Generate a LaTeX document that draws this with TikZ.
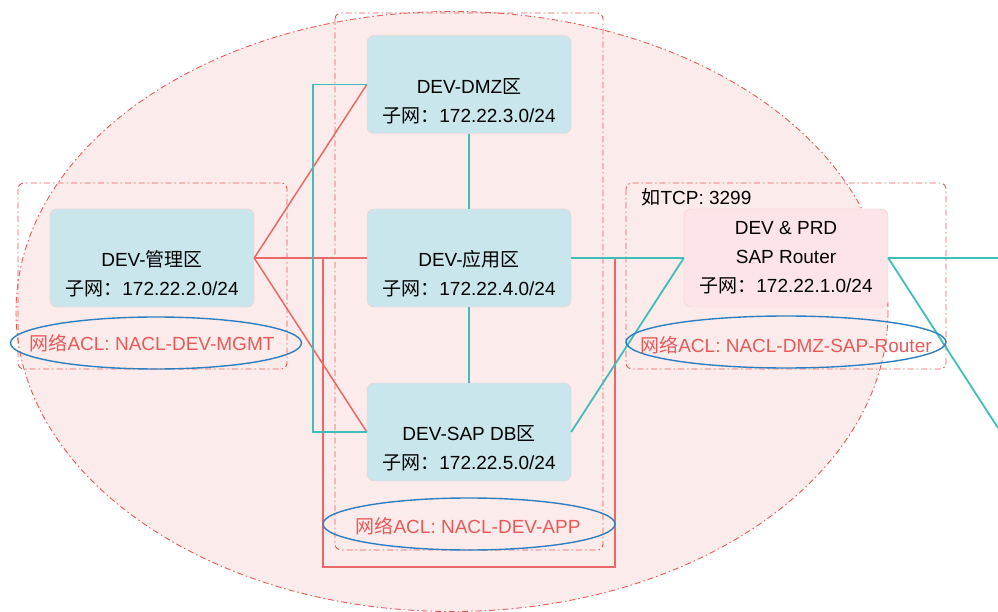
\documentclass[tikz,border=0pt]{standalone}
\usepackage{fontspec}
\usetikzlibrary{shapes.geometric}
\setmainfont{Liberation Sans}
\newfontfamily\cjk{Noto Sans CJK SC}
\newcommand\zh[1]{{\cjk #1}}
\definecolor{zoneblue}{RGB}{201,230,236}
\definecolor{zoneedge}{RGB}{246,200,204}
\definecolor{routerpink}{RGB}{253,228,232}
\definecolor{vpcfill}{RGB}{252,235,235}
\definecolor{aclred}{RGB}{232,90,90}
\definecolor{linkred}{RGB}{234,104,104}
\definecolor{linkcyan}{RGB}{62,190,184}
\definecolor{aclblue}{RGB}{46,126,192}
\begin{document}
\begin{tikzpicture}
	[x=1pt,y=-1pt,
	dashdot/.style={draw=aclred,line width=0.9pt,
		dash pattern=on 6pt off 3pt on 1.5pt off 3pt},
	zone/.style={rectangle,rounded corners=7pt,draw=zoneedge,
		fill=zoneblue,minimum width=204pt,minimum height=98pt},
	zonetext/.style={align=center,font=\fontsize{19}{29}\selectfont},
	redlink/.style={draw=linkred,line width=1.5pt},
	cyanlink/.style={draw=linkcyan,line width=1.8pt},
	acl/.style={draw=aclblue,line width=1.4pt,ellipse,inner sep=0pt},
	acltext/.style={text=aclred,font=\fontsize{19}{23}\selectfont}]
	\useasboundingbox (0,0) rectangle (998,612);
	% VPC and the dashed groups
	\path[dashdot,fill=vpcfill] (452,311.5) ellipse [x radius=436,y radius=300];
	\draw[dashdot,rounded corners=6pt] (18,183) rectangle (287,369);
	\draw[dashdot,rounded corners=6pt] (335,13) rectangle (603,550);
	\draw[dashdot,rounded corners=6pt] (626,183) rectangle (946,369);
	% subnets
	\node[zone] (dmz) at (469,84.5) {};
	\node[zone] (app) at (469,258) {};
	\node[zone] (db) at (469,432) {};
	\node[zone] (mgmt) at (152,258) {};
	\node[zone,fill=routerpink] (router) at (786,258) {};
	\node[zonetext] (dmz-t) at ([yshift=-17pt]dmz.center)
		{DEV-DMZ\zh{区}\\\zh{子网：}172.22.3.0/24};
	\node[zonetext] (app-t) at ([yshift=-16pt]app.center)
		{DEV-\zh{应用区}\\\zh{子网：}172.22.4.0/24};
	\node[zonetext] (db-t) at ([yshift=-16pt]db.center)
		{DEV-SAP DB\zh{区}\\\zh{子网：}172.22.5.0/24};
	\node[zonetext] (mgmt-t) at ([yshift=-16pt]mgmt.center)
		{DEV-\zh{管理区}\\\zh{子网：}172.22.2.0/24};
	\node[zonetext] (router-t) at (router.center)
		{DEV \& PRD\\SAP Router\\\zh{子网：}172.22.1.0/24};
	\node[anchor=west,font=\fontsize{19}{22}\selectfont] (tcp) at (638,197)
		{\zh{如}TCP: 3299};
	% links
	\coordinate (loop-a) at (323,258);
	\coordinate (loop-b) at (615,258);
	\coordinate (loop-c) at (615,567);
	\coordinate (east-a) at (998,258);
	\coordinate (east-b) at (998,428);
	\draw[redlink] (mgmt.east) -- (dmz.west);
	\draw[redlink] (mgmt.east) -- (app.west);
	\draw[redlink] (mgmt.east) -- (db.west);
	\draw[redlink] (loop-a) |- (loop-c) -- (loop-b);
	\draw[cyanlink] (dmz.west) -- ++(-54,0) |- (db.west);
	\draw[cyanlink] (dmz) -- (app);
	\draw[cyanlink] (app) -- (db);
	\draw[cyanlink] (app.east) -- (router.west);
	\draw[cyanlink] (db.east) -- (router.west);
	\draw[cyanlink] (router.east) -- (east-a);
	\draw[cyanlink] (router.east) -- (east-b);
	% network ACLs
	\node[acl,minimum width=291pt,minimum height=52pt] (acl-mgmt) at (156,343) {};
	\node[acl,minimum width=292pt,minimum height=52pt] (acl-app) at (469,524) {};
	\node[acl,minimum width=320pt,minimum height=52pt] (acl-router) at (786,342) {};
	\node[acltext] (acl-mgmt-t) at (152,343) {\zh{网络}ACL: NACL-DEV-MGMT};
	\node[acltext] (acl-app-t) at (468,526) {\zh{网络}ACL: NACL-DEV-APP};
	\node[acltext] (acl-router-t) at (786,345) {\zh{网络}ACL: NACL-DMZ-SAP-Router};
\end{tikzpicture}
\end{document}
